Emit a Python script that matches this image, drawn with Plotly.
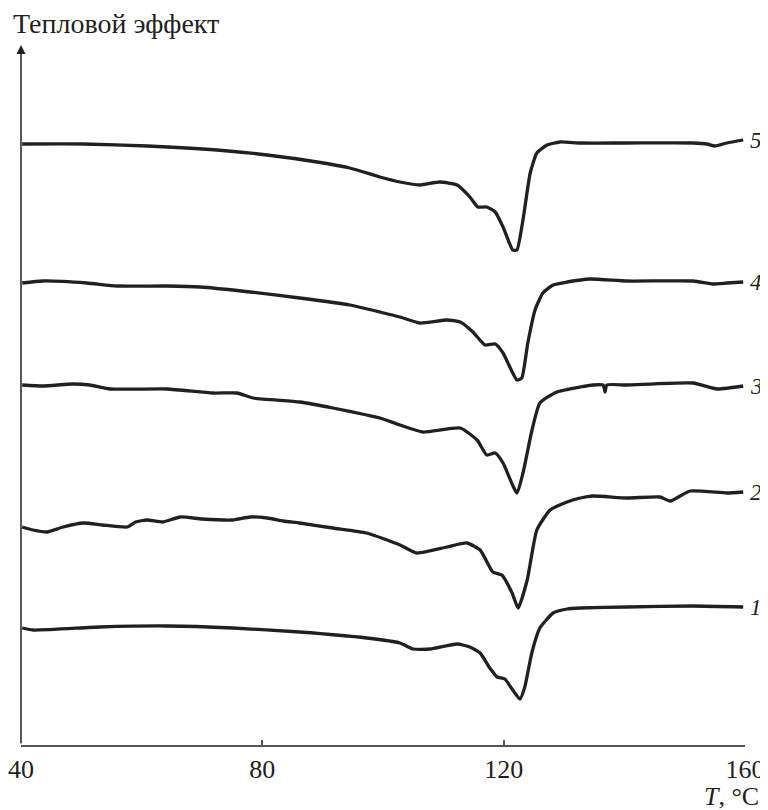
import plotly.graph_objects as go

# Temperature (°C) and heat-flow signal (arbitrary units)
t5 = [40.2, 50.3, 60.9, 72.5, 80.8, 89.1, 94.5, 99.5, 102.8, 106.1, 109.4, 112.3, 114.4, 115.7, 117.2, 118.6, 119.9, 121.5, 122.2, 123.2, 124.4, 125.5, 127.2, 129.3, 132.7, 140.4, 151.4, 153.7, 155.0, 157.0, 159.7]
s5 = [60.1, 60.1, 59.9, 59.5, 59.0, 58.3, 57.7, 56.8, 56.3, 56.0, 56.3, 56.0, 54.8, 53.8, 53.8, 53.3, 51.8, 49.5, 49.5, 52.5, 57.2, 59.2, 60.0, 60.3, 60.2, 60.2, 60.2, 60.1, 59.9, 60.2, 60.5]

t4 = [40.2, 43.6, 50.9, 55.9, 64.2, 69.7, 78.0, 86.2, 94.5, 99.5, 102.8, 106.1, 110.6, 112.8, 114.9, 116.9, 118.6, 119.9, 122.2, 123.0, 124.0, 125.2, 126.5, 128.2, 130.5, 134.3, 140.4, 151.4, 154.7, 157.0, 159.7]
s4 = [46.2, 46.4, 46.2, 45.9, 45.9, 45.8, 45.3, 44.7, 44.0, 43.3, 42.8, 42.2, 42.5, 42.3, 41.3, 40.0, 40.1, 39.2, 36.5, 36.7, 40.2, 43.5, 45.2, 46.0, 46.3, 46.6, 46.4, 46.4, 46.1, 46.2, 46.3]

t3 = [40.2, 43.6, 48.6, 51.4, 54.8, 64.2, 71.8, 75.8, 78.5, 86.2, 91.7, 97.3, 99.5, 102.8, 106.6, 112.8, 115.6, 117.2, 118.6, 119.9, 122.2, 123.2, 124.7, 126.0, 128.8, 132.7, 134.8, 136.5, 136.8, 137.1, 140.4, 151.4, 155.4, 159.7]
s3 = [36.0, 35.9, 36.1, 36.0, 35.6, 35.6, 35.2, 35.2, 34.7, 34.3, 33.7, 33.0, 32.7, 32.0, 31.3, 31.7, 30.5, 29.0, 29.2, 28.2, 25.2, 27.2, 31.5, 34.2, 35.3, 35.8, 36.0, 36.0, 35.3, 36.0, 36.0, 36.2, 35.6, 35.9]

t2 = [40.2, 42.0, 44.3, 47.0, 50.3, 53.5, 57.6, 59.0, 60.9, 63.5, 66.4, 70.0, 75.1, 78.0, 80.8, 83.5, 86.2, 91.7, 97.3, 102.8, 105.6, 110.6, 113.9, 116.1, 118.2, 119.7, 121.4, 122.4, 123.9, 125.5, 127.7, 130.5, 132.7, 134.8, 140.4, 145.9, 147.6, 150.9, 157.0, 159.7]
s2 = [21.8, 21.5, 21.3, 21.8, 22.2, 22.0, 21.8, 22.3, 22.5, 22.3, 22.8, 22.6, 22.5, 22.8, 22.7, 22.4, 22.2, 21.7, 21.2, 20.0, 19.2, 19.8, 20.2, 19.5, 17.3, 17.0, 15.2, 13.7, 16.5, 21.5, 23.5, 24.3, 24.7, 24.9, 24.7, 24.8, 24.4, 25.4, 25.2, 25.3]

t1 = [40.2, 42.0, 53.1, 64.2, 75.1, 86.2, 97.3, 102.8, 105.0, 107.8, 112.3, 114.4, 116.1, 117.7, 118.9, 120.2, 121.5, 122.7, 123.5, 124.7, 126.0, 128.2, 130.5, 132.7, 140.4, 151.4, 159.7]
s1 = [11.7, 11.5, 11.8, 11.9, 11.7, 11.3, 10.7, 10.2, 9.6, 9.6, 10.1, 9.8, 9.2, 7.7, 6.8, 6.6, 5.5, 4.6, 5.8, 9.3, 11.7, 13.2, 13.6, 13.7, 13.8, 13.9, 13.8]

curve_names = ["1", "2", "3", "4", "5"]
x_ticks = [40, 80, 120, 160]

INK = "#231f20"
FONT = "Liberation Serif"

fig = go.Figure()
series = [(t1, s1), (t2, s2), (t3, s3), (t4, s4), (t5, s5)]
for name, (t, s) in zip(curve_names, series):
    fig.add_trace(go.Scatter(
        x=t, y=s, mode="lines", name=name,
        line=dict(color=INK, width=3.3, shape="spline", smoothing=0.5),
        showlegend=False, hoverinfo="skip",
    ))
    fig.add_annotation(
        x=1.004, y=s[-1], xref="paper", yref="y", text="<i>" + name + "</i>",
        showarrow=False, xanchor="left", yanchor="middle",
        font=dict(family=FONT, size=23, color=INK),
    )

# y axis drawn as an arrow
fig.add_annotation(
    x=40, y=70, ax=40, ay=0, xref="x", yref="y", axref="x", ayref="y",
    showarrow=True, arrowhead=2, arrowsize=1.2, arrowwidth=1.5,
    arrowcolor=INK, text="",
)

fig.add_annotation(
    x=-0.0135, y=1.030, xref="paper", yref="paper",
    text="Тепловой эффект", showarrow=False,
    xanchor="left", yanchor="middle",
    font=dict(family=FONT, size=28, color=INK),
)
fig.add_annotation(
    x=1.022, y=-0.074, xref="paper", yref="paper",
    text="<i>T</i>, °C", showarrow=False,
    xanchor="right", yanchor="middle",
    font=dict(family=FONT, size=26, color=INK),
)

# the page adds an 8px body margin, so the figure is sized to fit the window
fig.update_layout(
    width=760, height=802,
    margin=dict(l=13, r=23, t=37, b=65, autoexpand=False),
    paper_bgcolor="white", plot_bgcolor="white",
    font=dict(family=FONT, size=26, color=INK),
)
fig.update_xaxes(
    range=[40, 160], tickvals=x_ticks, ticktext=[str(v) for v in x_ticks],
    showline=True, linecolor="#555555", linewidth=1.5,
    ticks="inside", ticklen=5, tickcolor="#555555", tickwidth=1.5,
    showgrid=False, zeroline=False, automargin=False,
    tickfont=dict(family=FONT, size=26, color=INK),
)
fig.update_yaxes(
    range=[0, 70], showticklabels=False, showline=False,
    showgrid=False, zeroline=False, automargin=False,
)

fig.write_html("out.html")
